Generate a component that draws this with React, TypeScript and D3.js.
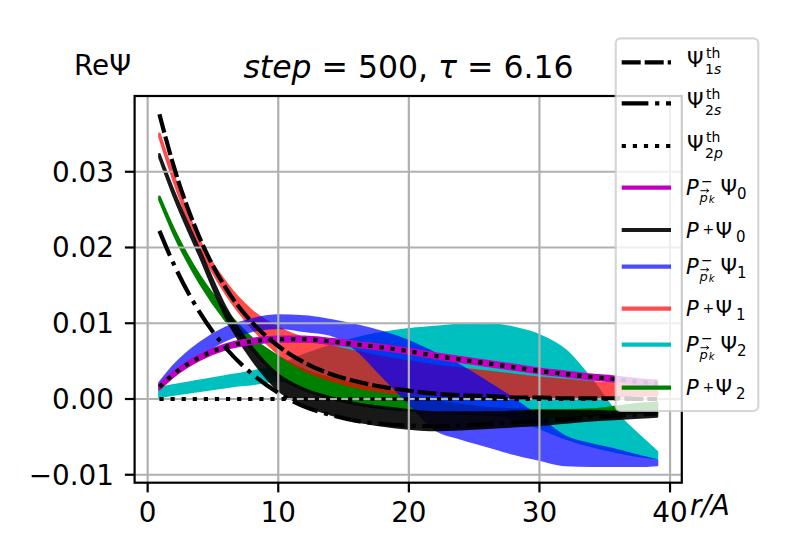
import React from 'react';
import * as d3 from 'd3';

// radial grid (r/A) shared by every curve
const radius = [0.9, 2, 4, 6, 8, 10, 12, 14, 16, 18, 20, 22, 24, 26, 28, 30, 32, 34, 36, 38, 39];

// theoretical wavefunctions
const psi1s = [0.0376, 0.0307, 0.0212, 0.0146, 0.0101, 0.0070, 0.0048, 0.0033, 0.0023, 0.0016, 0.0011, 0.0007, 0.0005, 0.0004, 0.0002, 0.0002, 0.0001, 0.0001, 0.0001, 0.0000, 0.0000];
const psi2s = [0.0222, 0.0178, 0.0114, 0.0067, 0.0033, 0.0008, -0.0010, -0.0021, -0.0029, -0.0033, -0.0035, -0.0036, -0.0035, -0.0033, -0.0031, -0.0029, -0.0027, -0.0024, -0.0022, -0.0020, -0.0019];
const psi2p = [0.0016, 0.0033, 0.0055, 0.0069, 0.0076, 0.0079, 0.0079, 0.0076, 0.0072, 0.0068, 0.0063, 0.0057, 0.0052, 0.0047, 0.0042, 0.0037, 0.0033, 0.0029, 0.0026, 0.0022, 0.0021];
const psi2pFlat = [0, 0, 0, 0, 0, 0, 0, 0, 0, 0, 0, 0, 0, 0, 0, 0, 0, 0, 0, 0, 0];

// projected states, spread over the run (lower / upper)
const pmPsi0Lo = [0.0013, 0.0030, 0.0052, 0.0066, 0.0073, 0.0076, 0.0076, 0.0073, 0.0069, 0.0065, 0.0060, 0.0054, 0.0049, 0.0044, 0.0039, 0.0034, 0.0030, 0.0026, 0.0023, 0.0019, 0.0018];
const pmPsi0Hi = [0.0019, 0.0036, 0.0058, 0.0072, 0.0079, 0.0082, 0.0082, 0.0079, 0.0075, 0.0071, 0.0066, 0.0060, 0.0055, 0.0050, 0.0045, 0.0040, 0.0036, 0.0032, 0.0029, 0.0025, 0.0024];
const ppPsi0Lo = [0.0319, 0.0268, 0.0188, 0.0108, 0.0052, 0.0012, -0.0008, -0.0020, -0.0029, -0.0035, -0.0039, -0.0041, -0.0040, -0.0038, -0.0036, -0.0034, -0.0031, -0.0028, -0.0026, -0.0024, -0.0023];
const ppPsi0Hi = [0.0323, 0.0274, 0.0196, 0.0120, 0.0068, 0.0032, 0.0013, 0.0002, -0.0006, -0.0011, -0.0015, -0.0018, -0.0018, -0.0018, -0.0017, -0.0016, -0.0016, -0.0016, -0.0017, -0.0017, -0.0018];
const pmPsi1Lo = [0.0016, 0.0032, 0.0058, 0.0078, 0.0090, 0.0094, 0.0090, 0.0085, 0.0065, 0.0030, -0.0005, -0.0040, -0.0052, -0.0062, -0.0072, -0.0080, -0.0087, -0.0088, -0.0088, -0.0088, -0.0087];
const pmPsi1Hi = [0.0021, 0.0044, 0.0074, 0.0094, 0.0105, 0.0110, 0.0109, 0.0104, 0.0097, 0.0088, 0.0076, 0.0060, 0.0043, 0.0022, 0.0000, -0.0025, -0.0050, -0.0060, -0.0068, -0.0077, -0.0081];
const ppPsi1Lo = [0.0346, 0.0288, 0.0200, 0.0139, 0.0094, 0.0060, 0.0038, 0.0025, 0.0016, 0.0010, 0.0007, 0.0005, 0.0004, 0.0003, 0.0003, 0.0003, 0.0003, 0.0003, 0.0004, 0.0005, 0.0005];
const ppPsi1Hi = [0.0350, 0.0294, 0.0208, 0.0153, 0.0116, 0.0094, 0.0080, 0.0070, 0.0062, 0.0055, 0.0049, 0.0044, 0.0040, 0.0036, 0.0032, 0.0028, 0.0025, 0.0022, 0.0020, 0.0018, 0.0017];
const pmPsi2Lo = [0.0003, 0.0006, 0.0011, 0.0016, 0.0020, 0.0024, 0.0020, 0.0014, 0.0008, 0.0002, -0.0004, -0.0008, -0.0012, -0.0018, -0.0026, -0.0038, -0.0052, -0.0062, -0.0070, -0.0076, -0.0078];
const pmPsi2Hi = [0.0014, 0.0018, 0.0024, 0.0030, 0.0036, 0.0044, 0.0058, 0.0070, 0.0080, 0.0087, 0.0092, 0.0095, 0.0098, 0.0099, 0.0094, 0.0084, 0.0064, 0.0025, -0.0021, -0.0054, -0.0070];
const ppPsi2Lo = [0.0263, 0.0218, 0.0153, 0.0103, 0.0065, 0.0030, 0.0012, 0.0001, -0.0007, -0.0012, -0.0015, -0.0017, -0.0019, -0.0020, -0.0022, -0.0023, -0.0023, -0.0022, -0.0020, -0.0018, -0.0018];
const ppPsi2Hi = [0.0267, 0.0224, 0.0162, 0.0116, 0.0080, 0.0056, 0.0038, 0.0027, 0.0019, 0.0012, 0.0004, -0.0003, -0.0008, -0.0012, -0.0014, -0.0015, -0.0015, -0.0014, -0.0010, -0.0006, -0.0005];

const xTicks = [0, 10, 20, 30, 40];
const yTicks = [-0.01, 0, 0.01, 0.02, 0.03];
const yTickLabels = ['\u22120.01', '0.00', '0.01', '0.02', '0.03'];

const FONT = '"DejaVu Sans", sans-serif';
const LW = 4.2;
const DASHED = '19,4';
const DASHDOT = '26.7,6.7,4.2,6.7';
const DOTTED = '4.2,6.9';

const MAGENTA = '#bf00bf';
const BLACK = '#000000';
const BLUE = '#0000ff';
const RED = '#ff0000';
const CYAN = '#00bfbf';
const GREEN = '#008000';

export default function App() {
  const x = d3.scaleLinear().domain([-1, 40.9]).range([134.6, 681.8]);
  const y = d3.scaleLinear().domain([-0.01105, 0.04]).range([482.7, 96]);
  const [x0, x1] = x.range();
  const [y0, y1] = y.range();

  const band = (lo: number[], hi: number[]) =>
    d3.area<number>()
      .x((_, i) => x(radius[i]))
      .y0((_, i) => y(lo[i]))
      .y1((_, i) => y(hi[i]))
      .curve(d3.curveMonotoneX)(radius) || '';

  const curve = (v: number[]) =>
    d3.line<number>()
      .x((_, i) => x(radius[i]))
      .y((_, i) => y(v[i]))
      .curve(d3.curveMonotoneX)(radius) || '';

  // drawing order matters for the colour mixing
  const bands = [
    { lo: pmPsi2Lo, hi: pmPsi2Hi, color: CYAN, op: 1 },
    { lo: ppPsi2Lo, hi: ppPsi2Hi, color: GREEN, op: 1 },
    { lo: ppPsi1Lo, hi: ppPsi1Hi, color: RED, op: 0.7 },
    { lo: pmPsi1Lo, hi: pmPsi1Hi, color: BLUE, op: 0.7 },
    { lo: ppPsi0Lo, hi: ppPsi0Hi, color: BLACK, op: 0.9 },
    { lo: pmPsi0Lo, hi: pmPsi0Hi, color: MAGENTA, op: 1 },
  ];

  const theory = [
    { v: psi1s, dash: DASHED },
    { v: psi2s, dash: DASHDOT },
    { v: psi2p, dash: DOTTED },
    { v: psi2pFlat, dash: DOTTED },
  ];

  const rowY = [62.3, 103.3, 146, 187.7, 230, 266.7, 308.7, 344.7, 387.7];
  const thRows = [
    { num: '1', it: 's', dash: DASHED },
    { num: '2', it: 's', dash: DASHDOT },
    { num: '2', it: 'p', dash: DOTTED },
  ];
  const pRows = [
    { sign: '\u2212', idx: '0', color: MAGENTA, op: 1 },
    { sign: '+', idx: '0', color: BLACK, op: 0.9 },
    { sign: '\u2212', idx: '1', color: BLUE, op: 0.7 },
    { sign: '+', idx: '1', color: RED, op: 0.7 },
    { sign: '\u2212', idx: '2', color: CYAN, op: 1 },
    { sign: '+', idx: '2', color: GREEN, op: 1 },
  ];

  return (
    <svg width={800} height={560} style={{ position: 'absolute', left: 0, top: 0 }} fontFamily={FONT}>
      <defs>
        <clipPath id="plot-area">
          <rect x={x0} y={y1} width={x1 - x0} height={y0 - y1} />
        </clipPath>
      </defs>
      <rect x={0} y={0} width={800} height={560} fill="#ffffff" />

      <g clipPath="url(#plot-area)">
        {bands.map((b, i) => (
          <g key={'b' + i} opacity={b.op}>
            <path d={band(b.lo, b.hi)} fill={b.color} stroke={b.color} strokeWidth={2.6} strokeLinejoin="round" />
          </g>
        ))}
        {xTicks.map(t => (
          <line key={'gx' + t} x1={x(t)} x2={x(t)} y1={y1} y2={y0} stroke="#b0b0b0" strokeWidth={2.2} />
        ))}
        {yTicks.map(t => (
          <line key={'gy' + t} x1={x0} x2={x1} y1={y(t)} y2={y(t)} stroke="#b0b0b0" strokeWidth={2.2} />
        ))}
        {theory.map((t, i) => (
          <path key={'t' + i} d={curve(t.v)} fill="none" stroke="#000" strokeWidth={LW} strokeDasharray={t.dash} />
        ))}
      </g>

      <rect x={x0} y={y1} width={x1 - x0} height={y0 - y1} fill="none" stroke="#000" strokeWidth={2.2} />

      {xTicks.map(t => (
        <g key={'tx' + t}>
          <line x1={x(t)} x2={x(t)} y1={y0} y2={y0 + 9.7} stroke="#000" strokeWidth={2.2} />
          <text x={x(t)} y={522} fontSize={27.8} textAnchor="middle">{t}</text>
        </g>
      ))}
      {yTicks.map((t, i) => (
        <g key={'ty' + t}>
          <line x1={x0 - 9.7} x2={x0} y1={y(t)} y2={y(t)} stroke="#000" strokeWidth={2.2} />
          <text x={114} y={y(t) + 10} fontSize={27.8} textAnchor="end">{yTickLabels[i]}</text>
        </g>
      ))}

      <text x={408.5} y={78} fontSize={31.5} textAnchor="middle">
        <tspan fontStyle="italic">step</tspan>
        <tspan>{' = 500, '}</tspan>
        <tspan fontStyle="italic">{'\u03c4'}</tspan>
        <tspan>{' = 6.16'}</tspan>
      </text>
      <text x={74} y={75} fontSize={27.8}>Re{'\u03a8'}</text>
      <text x={690} y={515} fontSize={27.8} fontStyle="italic">r/A</text>

      <g>
        <rect x={615.7} y={38.3} width={142.6} height={372.7} rx={5} fill="#ffffff" fillOpacity={0.8}
          stroke="#cccccc" strokeOpacity={0.8} strokeWidth={2.2} />
        {thRows.map((r, i) => {
          const cy = rowY[i];
          return (
            <g key={'lt' + i}>
              <line x1={621.7} x2={671} y1={cy} y2={cy} stroke="#000" strokeWidth={LW} strokeDasharray={r.dash} />
              <text fontSize={21}>
                <tspan x={687} y={cy + 4.5}>{'\u03a8'}</tspan>
                <tspan x={706} y={cy - 4} fontSize={14}>th</tspan>
                <tspan x={705} y={cy + 12} fontSize={14}>{r.num}</tspan>
                <tspan fontSize={14} fontStyle="italic">{r.it}</tspan>
              </text>
            </g>
          );
        })}
        {pRows.map((r, i) => {
          const cy = rowY[i + 3];
          const minus = r.sign !== '+';
          const psiX = minus ? 720.5 : 715.5;
          return (
            <g key={'lp' + i}>
              <line x1={621.7} x2={671} y1={cy} y2={cy} stroke={r.color} strokeOpacity={r.op} strokeWidth={LW} />
              {minus ? (
                <g>
                  <text x={686} y={cy + 7.5} fontSize={21} fontStyle="italic">P</text>
                  <text x={701} y={cy - 2} fontSize={14}>{r.sign}</text>
                  <text x={699.5} y={cy + 14} fontSize={13} fontStyle="italic">
                    p<tspan fontSize={10} dx={1} dy={1}>k</tspan>
                  </text>
                  <text x={psiX} y={cy + 7.5} fontSize={21}>
                    {'\u03a8'}<tspan fontSize={15} dy={4.2}>{r.idx}</tspan>
                  </text>
                  <path d={`M${700.5},${cy + 3}H${708.5}M${706.5},${cy + 1.3}L${708.8},${cy + 3}L${706.5},${cy + 4.7}`}
                    fill="none" stroke="#000" strokeWidth={1} />
                </g>
              ) : (
                <text fontSize={21}>
                  <tspan x={686} y={cy + 7.5} fontStyle="italic">P</tspan>
                  <tspan x={702.5} y={cy + 4.3} fontSize={14}>{r.sign}</tspan>
                  <tspan x={psiX} y={cy + 7.5}>{'\u03a8'}</tspan>
                  <tspan x={psiX + 20.5} y={cy + 11.7} fontSize={15}>{r.idx}</tspan>
                </text>
              )}
            </g>
          );
        })}
      </g>
    </svg>
  );
}
